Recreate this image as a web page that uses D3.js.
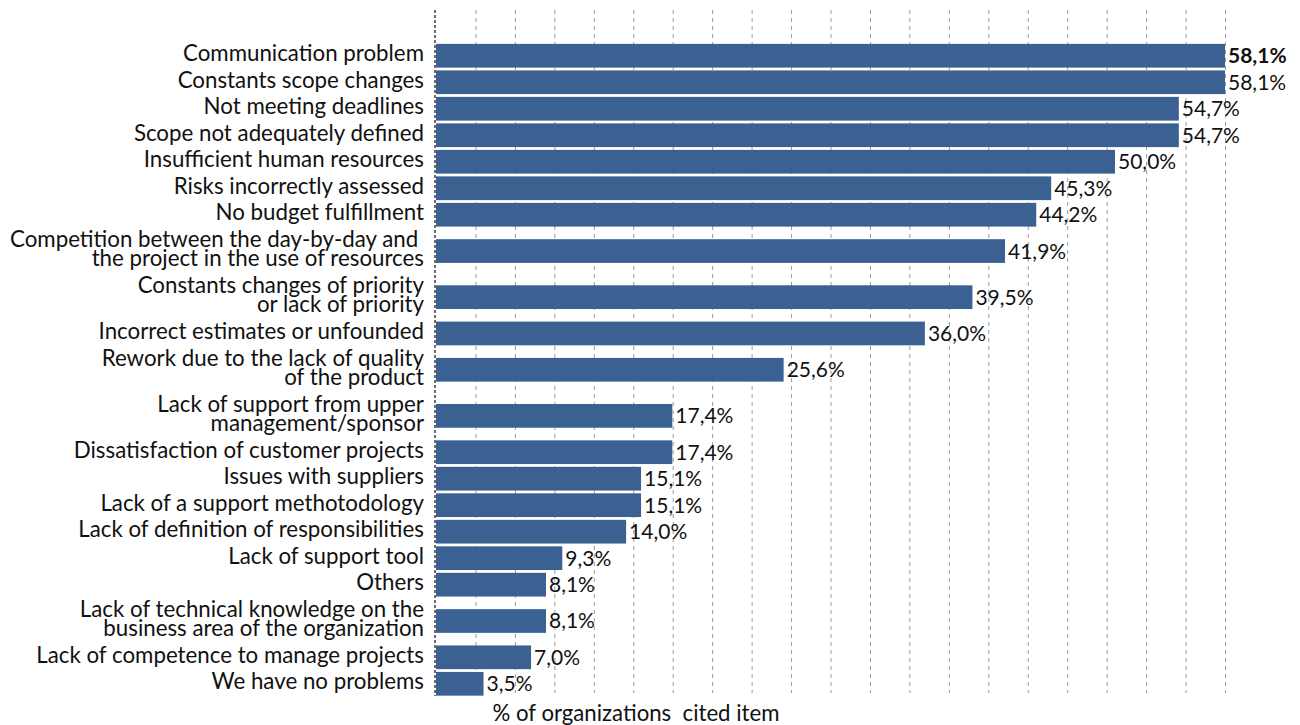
<!DOCTYPE html>
<html>
<head>
<meta charset="utf-8">
<script src="https://cdn.jsdelivr.net/npm/d3@7"></script>
<style>
  body { margin: 0; background: #fff; }
  svg { display: block; font-family: Lato, "Open Sans", sans-serif; }
</style>
</head>
<body>
<svg id="chart"></svg>
<script>
const categories = [
  "Communication problem",
  "Constants scope changes",
  "Not meeting deadlines",
  "Scope not adequately defined",
  "Insufficient human resources",
  "Risks incorrectly assessed",
  "No budget fulfillment",
  "Competition between the day-by-day and \nthe project in the use of resources",
  "Constants changes of priority\nor lack of priority",
  "Incorrect estimates or unfounded",
  "Rework due to the lack of quality\nof the product",
  "Lack of support from upper\nmanagement/sponsor",
  "Dissatisfaction of customer projects",
  "Issues with suppliers",
  "Lack of a support methotodology",
  "Lack of definition of responsibilities",
  "Lack of support tool",
  "Others",
  "Lack of technical knowledge on the\nbusiness area of the organization",
  "Lack of competence to manage projects",
  "We have no problems"
]
const values = [58.1, 58.1, 54.7, 54.7, 50.0, 45.3, 44.2, 41.9, 39.5, 36.0, 25.6,
  17.4, 17.4, 15.1, 15.1, 14.0, 9.3, 8.1, 8.1, 7.0, 3.5]
const axisTitle = "% of organizations  cited item"
const xMax = 58.1
const gridCount = 20

const width = 1300
const height = 725
const svg = d3.select("#chart").attr("width", width).attr("height", height)

const locale = d3.formatLocale({ decimal: ",", thousands: ".", grouping: [3], currency: ["", ""] })
const fmt = (v) => locale.format(".1f")(v) + "%"

// rows with two-line labels take more room
const twoLineWeight = 1.74
const rows = []
let acc = 0
categories.forEach((c, i) => {
  const lines = c.split("\n")
  const w = lines.length > 1 ? twoLineWeight : 1
  rows.push({ name: c, lines, value: values[i], start: acc, weight: w })
  acc += w
})

const x = d3.scaleLinear().domain([0, xMax]).range([436, 1225])
const y = d3.scaleLinear().domain([0, acc]).range([42.5, 42.5 + acc * 26.5])
const barH = y(0.895) - y(0)
const center = (d) => y(d.start + d.weight / 2)

// dashed vertical gridlines
const gridVals = d3.range(1, gridCount + 1).map((i) => (i * xMax) / gridCount)
svg.append("g")
  .attr("transform", "translate(0,10)")
  .call(d3.axisBottom(x).tickValues(gridVals).tickSize(683).tickFormat(""))
  .call((g) => g.select(".domain").remove())
  .call((g) => g.selectAll("line")
    .attr("stroke", "#9a9a9a")
    .attr("stroke-width", 1)
    .attr("stroke-dasharray", "4,4"))

// bars
svg.append("g")
  .selectAll("rect")
  .data(rows)
  .join("rect")
  .attr("x", x(0))
  .attr("y", (d) => center(d) - barH / 2)
  .attr("width", (d) => x(d.value) - x(0))
  .attr("height", barH)
  .attr("fill", "#3a6191")

// left axis line
svg.append("line")
  .attr("x1", x(0) - 1).attr("x2", x(0) - 1)
  .attr("y1", 10).attr("y2", 696)
  .attr("stroke", "#222")
  .attr("stroke-width", 1.3)
  .attr("stroke-dasharray", "3,2")

// category labels
const lineGap = 18.6
const labels = svg.append("g")
  .attr("font-size", 22.3)
  .attr("fill", "#111")
  .attr("text-anchor", "end")
  .style("white-space", "pre")

rows.forEach((d) => {
  const n = d.lines.length
  const t = labels.append("text")
    .attr("x", 424)
    .attr("y", center(d) + 5.5 - ((n - 1) * lineGap) / 2)
  d.lines.forEach((line, j) => {
    t.append("tspan")
      .attr("x", 424)
      .attr("dy", j === 0 ? 0 : lineGap)
      .text(line)
  })
})

// value labels
svg.append("g")
  .selectAll("text")
  .data(rows)
  .join("text")
  .attr("x", (d) => x(d.value) + 3)
  .attr("y", (d) => center(d) + 7.5)
  .attr("font-size", 21)
  .attr("font-weight", (d, i) => (i === 0 ? "bold" : "normal"))
  .attr("fill", "#111")
  .text((d) => fmt(d.value))

// axis title
svg.append("text")
  .attr("x", 636)
  .attr("y", 721)
  .attr("text-anchor", "middle")
  .attr("font-size", 22.2)
  .attr("fill", "#111")
  .style("white-space", "pre")
  .text(axisTitle)
</script>
</body>
</html>
